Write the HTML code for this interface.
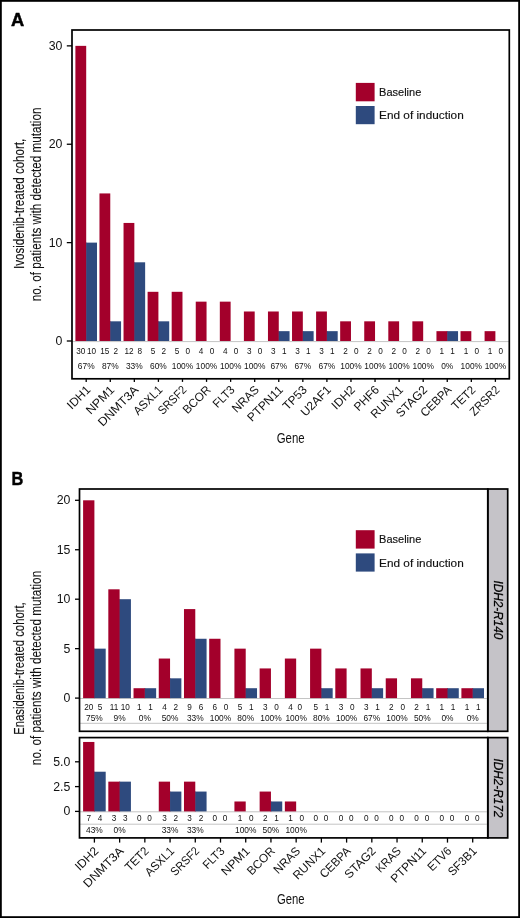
<!DOCTYPE html><html><head><meta charset="utf-8"><style>html,body{margin:0;padding:0;background:#fff;}svg{display:block;will-change:transform;}text{font-family:"Liberation Sans", sans-serif;}</style></head><body>
<svg width="520" height="918" viewBox="0 0 520 918">
<rect x="0" y="0" width="520" height="918" fill="#fff"/>
<rect x="0.9" y="0.9" width="518.2" height="916.2" fill="none" stroke="#000" stroke-width="1.8"/>
<text x="10.9" y="25.5" font-size="18" text-anchor="start" fill="#000" textLength="13.2" lengthAdjust="spacingAndGlyphs" font-weight="bold" stroke="#000" stroke-width="0.45">A</text>
<text x="11.6" y="484.8" font-size="18" text-anchor="start" fill="#000" textLength="11.8" lengthAdjust="spacingAndGlyphs" font-weight="bold" stroke="#000" stroke-width="0.45">B</text>
<line x1="72.0" y1="341.6" x2="509.3" y2="341.6" stroke="#c4c4c4" stroke-width="1"/>
<rect x="75.4" y="45.86" width="10.8" height="295.14" fill="#a3002b"/>
<rect x="85.7" y="242.62" width="1" height="98.38" fill="#a3002b"/>
<rect x="86.2" y="242.62" width="10.8" height="98.38" fill="#2e4a7e"/>
<text x="80.8" y="353.9" font-size="8.2" text-anchor="middle" fill="#111" >30</text>
<text x="91.6" y="353.9" font-size="8.2" text-anchor="middle" fill="#111" >10</text>
<text x="86.2" y="369.4" font-size="8.4" text-anchor="middle" fill="#111" >67%</text>
<rect x="99.47" y="193.43" width="10.8" height="147.57" fill="#a3002b"/>
<rect x="109.77" y="321.32" width="1" height="19.68" fill="#a3002b"/>
<rect x="110.27" y="321.32" width="10.8" height="19.68" fill="#2e4a7e"/>
<text x="104.87" y="353.9" font-size="8.2" text-anchor="middle" fill="#111" >15</text>
<text x="115.67" y="353.9" font-size="8.2" text-anchor="middle" fill="#111" >2</text>
<text x="110.27" y="369.4" font-size="8.4" text-anchor="middle" fill="#111" >87%</text>
<rect x="123.54" y="222.94" width="10.8" height="118.06" fill="#a3002b"/>
<rect x="133.84" y="262.3" width="1" height="78.7" fill="#a3002b"/>
<rect x="134.34" y="262.3" width="10.8" height="78.7" fill="#2e4a7e"/>
<text x="128.94" y="353.9" font-size="8.2" text-anchor="middle" fill="#111" >12</text>
<text x="139.74" y="353.9" font-size="8.2" text-anchor="middle" fill="#111" >8</text>
<text x="134.34" y="369.4" font-size="8.4" text-anchor="middle" fill="#111" >33%</text>
<rect x="147.61" y="291.81" width="10.8" height="49.19" fill="#a3002b"/>
<rect x="157.91" y="321.32" width="1" height="19.68" fill="#a3002b"/>
<rect x="158.41" y="321.32" width="10.8" height="19.68" fill="#2e4a7e"/>
<text x="153.01" y="353.9" font-size="8.2" text-anchor="middle" fill="#111" >5</text>
<text x="163.81" y="353.9" font-size="8.2" text-anchor="middle" fill="#111" >2</text>
<text x="158.41" y="369.4" font-size="8.4" text-anchor="middle" fill="#111" >60%</text>
<rect x="171.68" y="291.81" width="10.8" height="49.19" fill="#a3002b"/>
<text x="177.08" y="353.9" font-size="8.2" text-anchor="middle" fill="#111" >5</text>
<text x="187.88" y="353.9" font-size="8.2" text-anchor="middle" fill="#111" >0</text>
<text x="182.48" y="369.4" font-size="8.4" text-anchor="middle" fill="#111" >100%</text>
<rect x="195.75" y="301.65" width="10.8" height="39.35" fill="#a3002b"/>
<text x="201.15" y="353.9" font-size="8.2" text-anchor="middle" fill="#111" >4</text>
<text x="211.95" y="353.9" font-size="8.2" text-anchor="middle" fill="#111" >0</text>
<text x="206.55" y="369.4" font-size="8.4" text-anchor="middle" fill="#111" >100%</text>
<rect x="219.82" y="301.65" width="10.8" height="39.35" fill="#a3002b"/>
<text x="225.22" y="353.9" font-size="8.2" text-anchor="middle" fill="#111" >4</text>
<text x="236.02" y="353.9" font-size="8.2" text-anchor="middle" fill="#111" >0</text>
<text x="230.62" y="369.4" font-size="8.4" text-anchor="middle" fill="#111" >100%</text>
<rect x="243.89" y="311.49" width="10.8" height="29.51" fill="#a3002b"/>
<text x="249.29" y="353.9" font-size="8.2" text-anchor="middle" fill="#111" >3</text>
<text x="260.09" y="353.9" font-size="8.2" text-anchor="middle" fill="#111" >0</text>
<text x="254.69" y="369.4" font-size="8.4" text-anchor="middle" fill="#111" >100%</text>
<rect x="267.96" y="311.49" width="10.8" height="29.51" fill="#a3002b"/>
<rect x="278.26" y="331.16" width="1" height="9.84" fill="#a3002b"/>
<rect x="278.76" y="331.16" width="10.8" height="9.84" fill="#2e4a7e"/>
<text x="273.36" y="353.9" font-size="8.2" text-anchor="middle" fill="#111" >3</text>
<text x="284.16" y="353.9" font-size="8.2" text-anchor="middle" fill="#111" >1</text>
<text x="278.76" y="369.4" font-size="8.4" text-anchor="middle" fill="#111" >67%</text>
<rect x="292.03" y="311.49" width="10.8" height="29.51" fill="#a3002b"/>
<rect x="302.33" y="331.16" width="1" height="9.84" fill="#a3002b"/>
<rect x="302.83" y="331.16" width="10.8" height="9.84" fill="#2e4a7e"/>
<text x="297.43" y="353.9" font-size="8.2" text-anchor="middle" fill="#111" >3</text>
<text x="308.23" y="353.9" font-size="8.2" text-anchor="middle" fill="#111" >1</text>
<text x="302.83" y="369.4" font-size="8.4" text-anchor="middle" fill="#111" >67%</text>
<rect x="316.1" y="311.49" width="10.8" height="29.51" fill="#a3002b"/>
<rect x="326.4" y="331.16" width="1" height="9.84" fill="#a3002b"/>
<rect x="326.9" y="331.16" width="10.8" height="9.84" fill="#2e4a7e"/>
<text x="321.5" y="353.9" font-size="8.2" text-anchor="middle" fill="#111" >3</text>
<text x="332.3" y="353.9" font-size="8.2" text-anchor="middle" fill="#111" >1</text>
<text x="326.9" y="369.4" font-size="8.4" text-anchor="middle" fill="#111" >67%</text>
<rect x="340.17" y="321.32" width="10.8" height="19.68" fill="#a3002b"/>
<text x="345.57" y="353.9" font-size="8.2" text-anchor="middle" fill="#111" >2</text>
<text x="356.37" y="353.9" font-size="8.2" text-anchor="middle" fill="#111" >0</text>
<text x="350.97" y="369.4" font-size="8.4" text-anchor="middle" fill="#111" >100%</text>
<rect x="364.24" y="321.32" width="10.8" height="19.68" fill="#a3002b"/>
<text x="369.64" y="353.9" font-size="8.2" text-anchor="middle" fill="#111" >2</text>
<text x="380.44" y="353.9" font-size="8.2" text-anchor="middle" fill="#111" >0</text>
<text x="375.04" y="369.4" font-size="8.4" text-anchor="middle" fill="#111" >100%</text>
<rect x="388.31" y="321.32" width="10.8" height="19.68" fill="#a3002b"/>
<text x="393.71" y="353.9" font-size="8.2" text-anchor="middle" fill="#111" >2</text>
<text x="404.51" y="353.9" font-size="8.2" text-anchor="middle" fill="#111" >0</text>
<text x="399.11" y="369.4" font-size="8.4" text-anchor="middle" fill="#111" >100%</text>
<rect x="412.38" y="321.32" width="10.8" height="19.68" fill="#a3002b"/>
<text x="417.78" y="353.9" font-size="8.2" text-anchor="middle" fill="#111" >2</text>
<text x="428.58" y="353.9" font-size="8.2" text-anchor="middle" fill="#111" >0</text>
<text x="423.18" y="369.4" font-size="8.4" text-anchor="middle" fill="#111" >100%</text>
<rect x="436.45" y="331.16" width="10.8" height="9.84" fill="#a3002b"/>
<rect x="446.75" y="331.16" width="1" height="9.84" fill="#a3002b"/>
<rect x="447.25" y="331.16" width="10.8" height="9.84" fill="#2e4a7e"/>
<text x="441.85" y="353.9" font-size="8.2" text-anchor="middle" fill="#111" >1</text>
<text x="452.65" y="353.9" font-size="8.2" text-anchor="middle" fill="#111" >1</text>
<text x="447.25" y="369.4" font-size="8.4" text-anchor="middle" fill="#111" >0%</text>
<rect x="460.52" y="331.16" width="10.8" height="9.84" fill="#a3002b"/>
<text x="465.92" y="353.9" font-size="8.2" text-anchor="middle" fill="#111" >1</text>
<text x="476.72" y="353.9" font-size="8.2" text-anchor="middle" fill="#111" >0</text>
<text x="471.32" y="369.4" font-size="8.4" text-anchor="middle" fill="#111" >100%</text>
<rect x="484.59" y="331.16" width="10.8" height="9.84" fill="#a3002b"/>
<text x="489.99" y="353.9" font-size="8.2" text-anchor="middle" fill="#111" >1</text>
<text x="500.79" y="353.9" font-size="8.2" text-anchor="middle" fill="#111" >0</text>
<text x="495.39" y="369.4" font-size="8.4" text-anchor="middle" fill="#111" >100%</text>
<rect x="72.0" y="30.0" width="437.3" height="348.8" fill="none" stroke="#000" stroke-width="1.7"/>
<line x1="66.8" y1="341" x2="72.0" y2="341" stroke="#000" stroke-width="1.3"/>
<text x="62.4" y="344.9" font-size="12.3" text-anchor="end" fill="#111" >0</text>
<line x1="66.8" y1="242.62" x2="72.0" y2="242.62" stroke="#000" stroke-width="1.3"/>
<text x="62.4" y="246.52" font-size="12.3" text-anchor="end" fill="#111" >10</text>
<line x1="66.8" y1="144.24" x2="72.0" y2="144.24" stroke="#000" stroke-width="1.3"/>
<text x="62.4" y="148.14" font-size="12.3" text-anchor="end" fill="#111" >20</text>
<line x1="66.8" y1="45.86" x2="72.0" y2="45.86" stroke="#000" stroke-width="1.3"/>
<text x="62.4" y="49.76" font-size="12.3" text-anchor="end" fill="#111" >30</text>
<line x1="86.2" y1="378.8" x2="86.2" y2="381.9" stroke="#000" stroke-width="1.3"/>
<line x1="110.27" y1="378.8" x2="110.27" y2="381.9" stroke="#000" stroke-width="1.3"/>
<line x1="134.34" y1="378.8" x2="134.34" y2="381.9" stroke="#000" stroke-width="1.3"/>
<line x1="158.41" y1="378.8" x2="158.41" y2="381.9" stroke="#000" stroke-width="1.3"/>
<line x1="182.48" y1="378.8" x2="182.48" y2="381.9" stroke="#000" stroke-width="1.3"/>
<line x1="206.55" y1="378.8" x2="206.55" y2="381.9" stroke="#000" stroke-width="1.3"/>
<line x1="230.62" y1="378.8" x2="230.62" y2="381.9" stroke="#000" stroke-width="1.3"/>
<line x1="254.69" y1="378.8" x2="254.69" y2="381.9" stroke="#000" stroke-width="1.3"/>
<line x1="278.76" y1="378.8" x2="278.76" y2="381.9" stroke="#000" stroke-width="1.3"/>
<line x1="302.83" y1="378.8" x2="302.83" y2="381.9" stroke="#000" stroke-width="1.3"/>
<line x1="326.9" y1="378.8" x2="326.9" y2="381.9" stroke="#000" stroke-width="1.3"/>
<line x1="350.97" y1="378.8" x2="350.97" y2="381.9" stroke="#000" stroke-width="1.3"/>
<line x1="375.04" y1="378.8" x2="375.04" y2="381.9" stroke="#000" stroke-width="1.3"/>
<line x1="399.11" y1="378.8" x2="399.11" y2="381.9" stroke="#000" stroke-width="1.3"/>
<line x1="423.18" y1="378.8" x2="423.18" y2="381.9" stroke="#000" stroke-width="1.3"/>
<line x1="447.25" y1="378.8" x2="447.25" y2="381.9" stroke="#000" stroke-width="1.3"/>
<line x1="471.32" y1="378.8" x2="471.32" y2="381.9" stroke="#000" stroke-width="1.3"/>
<line x1="495.39" y1="378.8" x2="495.39" y2="381.9" stroke="#000" stroke-width="1.3"/>
<text x="0" y="0" font-size="12" text-anchor="end" fill="#111" textLength="27.34" lengthAdjust="spacingAndGlyphs" transform="translate(91.1,390.6) rotate(-45)">IDH1</text>
<text x="0" y="0" font-size="12" text-anchor="end" fill="#111" textLength="34.54" lengthAdjust="spacingAndGlyphs" transform="translate(115.17,390.6) rotate(-45)">NPM1</text>
<text x="0" y="0" font-size="12" text-anchor="end" fill="#111" textLength="51.54" lengthAdjust="spacingAndGlyphs" transform="translate(139.24,390.6) rotate(-45)">DNMT3A</text>
<text x="0" y="0" font-size="12" text-anchor="end" fill="#111" textLength="35.51" lengthAdjust="spacingAndGlyphs" transform="translate(163.31,390.6) rotate(-45)">ASXL1</text>
<text x="0" y="0" font-size="12" text-anchor="end" fill="#111" textLength="34.98" lengthAdjust="spacingAndGlyphs" transform="translate(187.38,390.6) rotate(-45)">SRSF2</text>
<text x="0" y="0" font-size="12" text-anchor="end" fill="#111" textLength="33.97" lengthAdjust="spacingAndGlyphs" transform="translate(211.45,390.6) rotate(-45)">BCOR</text>
<text x="0" y="0" font-size="12" text-anchor="end" fill="#111" textLength="25.32" lengthAdjust="spacingAndGlyphs" transform="translate(235.52,390.6) rotate(-45)">FLT3</text>
<text x="0" y="0" font-size="12" text-anchor="end" fill="#111" textLength="32.14" lengthAdjust="spacingAndGlyphs" transform="translate(259.59,390.6) rotate(-45)">NRAS</text>
<text x="0" y="0" font-size="12" text-anchor="end" fill="#111" textLength="44.81" lengthAdjust="spacingAndGlyphs" transform="translate(283.66,390.6) rotate(-45)">PTPN11</text>
<text x="0" y="0" font-size="12" text-anchor="end" fill="#111" textLength="28.68" lengthAdjust="spacingAndGlyphs" transform="translate(307.73,390.6) rotate(-45)">TP53</text>
<text x="0" y="0" font-size="12" text-anchor="end" fill="#111" textLength="37.35" lengthAdjust="spacingAndGlyphs" transform="translate(331.8,390.6) rotate(-45)">U2AF1</text>
<text x="0" y="0" font-size="12" text-anchor="end" fill="#111" textLength="27.64" lengthAdjust="spacingAndGlyphs" transform="translate(355.87,390.6) rotate(-45)">IDH2</text>
<text x="0" y="0" font-size="12" text-anchor="end" fill="#111" textLength="30.07" lengthAdjust="spacingAndGlyphs" transform="translate(379.94,390.6) rotate(-45)">PHF6</text>
<text x="0" y="0" font-size="12" text-anchor="end" fill="#111" textLength="40.18" lengthAdjust="spacingAndGlyphs" transform="translate(404.01,390.6) rotate(-45)">RUNX1</text>
<text x="0" y="0" font-size="12" text-anchor="end" fill="#111" textLength="38.76" lengthAdjust="spacingAndGlyphs" transform="translate(428.08,390.6) rotate(-45)">STAG2</text>
<text x="0" y="0" font-size="12" text-anchor="end" fill="#111" textLength="38.19" lengthAdjust="spacingAndGlyphs" transform="translate(452.15,390.6) rotate(-45)">CEBPA</text>
<text x="0" y="0" font-size="12" text-anchor="end" fill="#111" textLength="28.24" lengthAdjust="spacingAndGlyphs" transform="translate(476.22,390.6) rotate(-45)">TET2</text>
<text x="0" y="0" font-size="12" text-anchor="end" fill="#111" textLength="36.54" lengthAdjust="spacingAndGlyphs" transform="translate(500.29,390.6) rotate(-45)">ZRSR2</text>
<text x="290.7" y="442.7" font-size="15.4" text-anchor="middle" fill="#111" textLength="28" lengthAdjust="spacingAndGlyphs" >Gene</text>
<rect x="355.8" y="82.9" width="18.8" height="18.4" fill="#a3002b"/>
<rect x="355.8" y="106.0" width="18.8" height="18.2" fill="#2e4a7e"/>
<text x="379.1" y="95.7" font-size="11.7" text-anchor="start" fill="#111" textLength="42.2" lengthAdjust="spacingAndGlyphs" stroke="#111" stroke-width="0.15">Baseline</text>
<text x="379.1" y="118.8" font-size="11.7" text-anchor="start" fill="#111" textLength="84.6" lengthAdjust="spacingAndGlyphs" stroke="#111" stroke-width="0.15">End of induction</text>
<text x="0" y="0" font-size="14.2" text-anchor="middle" fill="#111" stroke="#111" stroke-width="0.12" textLength="130.2" lengthAdjust="spacingAndGlyphs" transform="translate(23.7,203.9) rotate(-90)">Ivosidenib-treated cohort,</text>
<text x="0" y="0" font-size="14.2" text-anchor="middle" fill="#111" stroke="#111" stroke-width="0.12" textLength="193.6" lengthAdjust="spacingAndGlyphs" transform="translate(40.6,204.4) rotate(-90)">no. of patients with detected mutation</text>
<rect x="487.8" y="489.0" width="19.9" height="242.3" fill="#c5c3c8" stroke="#000" stroke-width="1.7"/>
<line x1="79.5" y1="698.5" x2="487.8" y2="698.5" stroke="#c4c4c4" stroke-width="1"/>
<line x1="79.5" y1="723.3" x2="487.8" y2="723.3" stroke="#c4c4c4" stroke-width="1"/>
<rect x="83.1" y="500.3" width="11.3" height="197.8" fill="#a3002b"/>
<rect x="93.9" y="648.65" width="1" height="49.45" fill="#a3002b"/>
<rect x="94.4" y="648.65" width="11.3" height="49.45" fill="#2e4a7e"/>
<text x="88.75" y="710.3" font-size="8.2" text-anchor="middle" fill="#111" >20</text>
<text x="100.05" y="710.3" font-size="8.2" text-anchor="middle" fill="#111" >5</text>
<text x="94.4" y="720.8" font-size="8.4" text-anchor="middle" fill="#111" >75%</text>
<rect x="108.32" y="589.31" width="11.3" height="108.79" fill="#a3002b"/>
<rect x="119.12" y="599.2" width="1" height="98.9" fill="#a3002b"/>
<rect x="119.62" y="599.2" width="11.3" height="98.9" fill="#2e4a7e"/>
<text x="113.97" y="710.3" font-size="8.2" text-anchor="middle" fill="#111" >11</text>
<text x="125.27" y="710.3" font-size="8.2" text-anchor="middle" fill="#111" >10</text>
<text x="119.62" y="720.8" font-size="8.4" text-anchor="middle" fill="#111" >9%</text>
<rect x="133.54" y="688.21" width="11.3" height="9.89" fill="#a3002b"/>
<rect x="144.34" y="688.21" width="1" height="9.89" fill="#a3002b"/>
<rect x="144.84" y="688.21" width="11.3" height="9.89" fill="#2e4a7e"/>
<text x="139.19" y="710.3" font-size="8.2" text-anchor="middle" fill="#111" >1</text>
<text x="150.49" y="710.3" font-size="8.2" text-anchor="middle" fill="#111" >1</text>
<text x="144.84" y="720.8" font-size="8.4" text-anchor="middle" fill="#111" >0%</text>
<rect x="158.76" y="658.54" width="11.3" height="39.56" fill="#a3002b"/>
<rect x="169.56" y="678.32" width="1" height="19.78" fill="#a3002b"/>
<rect x="170.06" y="678.32" width="11.3" height="19.78" fill="#2e4a7e"/>
<text x="164.41" y="710.3" font-size="8.2" text-anchor="middle" fill="#111" >4</text>
<text x="175.71" y="710.3" font-size="8.2" text-anchor="middle" fill="#111" >2</text>
<text x="170.06" y="720.8" font-size="8.4" text-anchor="middle" fill="#111" >50%</text>
<rect x="183.98" y="609.09" width="11.3" height="89.01" fill="#a3002b"/>
<rect x="194.78" y="638.76" width="1" height="59.34" fill="#a3002b"/>
<rect x="195.28" y="638.76" width="11.3" height="59.34" fill="#2e4a7e"/>
<text x="189.63" y="710.3" font-size="8.2" text-anchor="middle" fill="#111" >9</text>
<text x="200.93" y="710.3" font-size="8.2" text-anchor="middle" fill="#111" >6</text>
<text x="195.28" y="720.8" font-size="8.4" text-anchor="middle" fill="#111" >33%</text>
<rect x="209.2" y="638.76" width="11.3" height="59.34" fill="#a3002b"/>
<text x="214.85" y="710.3" font-size="8.2" text-anchor="middle" fill="#111" >6</text>
<text x="226.15" y="710.3" font-size="8.2" text-anchor="middle" fill="#111" >0</text>
<text x="220.5" y="720.8" font-size="8.4" text-anchor="middle" fill="#111" >100%</text>
<rect x="234.42" y="648.65" width="11.3" height="49.45" fill="#a3002b"/>
<rect x="245.22" y="688.21" width="1" height="9.89" fill="#a3002b"/>
<rect x="245.72" y="688.21" width="11.3" height="9.89" fill="#2e4a7e"/>
<text x="240.07" y="710.3" font-size="8.2" text-anchor="middle" fill="#111" >5</text>
<text x="251.37" y="710.3" font-size="8.2" text-anchor="middle" fill="#111" >1</text>
<text x="245.72" y="720.8" font-size="8.4" text-anchor="middle" fill="#111" >80%</text>
<rect x="259.64" y="668.43" width="11.3" height="29.67" fill="#a3002b"/>
<text x="265.29" y="710.3" font-size="8.2" text-anchor="middle" fill="#111" >3</text>
<text x="276.59" y="710.3" font-size="8.2" text-anchor="middle" fill="#111" >0</text>
<text x="270.94" y="720.8" font-size="8.4" text-anchor="middle" fill="#111" >100%</text>
<rect x="284.86" y="658.54" width="11.3" height="39.56" fill="#a3002b"/>
<text x="290.51" y="710.3" font-size="8.2" text-anchor="middle" fill="#111" >4</text>
<text x="299.81" y="710.3" font-size="8.2" text-anchor="middle" fill="#111" >0</text>
<text x="296.16" y="720.8" font-size="8.4" text-anchor="middle" fill="#111" >100%</text>
<rect x="310.08" y="648.65" width="11.3" height="49.45" fill="#a3002b"/>
<rect x="320.88" y="688.21" width="1" height="9.89" fill="#a3002b"/>
<rect x="321.38" y="688.21" width="11.3" height="9.89" fill="#2e4a7e"/>
<text x="315.73" y="710.3" font-size="8.2" text-anchor="middle" fill="#111" >5</text>
<text x="327.03" y="710.3" font-size="8.2" text-anchor="middle" fill="#111" >1</text>
<text x="321.38" y="720.8" font-size="8.4" text-anchor="middle" fill="#111" >80%</text>
<rect x="335.3" y="668.43" width="11.3" height="29.67" fill="#a3002b"/>
<text x="340.95" y="710.3" font-size="8.2" text-anchor="middle" fill="#111" >3</text>
<text x="352.25" y="710.3" font-size="8.2" text-anchor="middle" fill="#111" >0</text>
<text x="346.6" y="720.8" font-size="8.4" text-anchor="middle" fill="#111" >100%</text>
<rect x="360.52" y="668.43" width="11.3" height="29.67" fill="#a3002b"/>
<rect x="371.32" y="688.21" width="1" height="9.89" fill="#a3002b"/>
<rect x="371.82" y="688.21" width="11.3" height="9.89" fill="#2e4a7e"/>
<text x="366.17" y="710.3" font-size="8.2" text-anchor="middle" fill="#111" >3</text>
<text x="377.47" y="710.3" font-size="8.2" text-anchor="middle" fill="#111" >1</text>
<text x="371.82" y="720.8" font-size="8.4" text-anchor="middle" fill="#111" >67%</text>
<rect x="385.74" y="678.32" width="11.3" height="19.78" fill="#a3002b"/>
<text x="391.39" y="710.3" font-size="8.2" text-anchor="middle" fill="#111" >2</text>
<text x="402.69" y="710.3" font-size="8.2" text-anchor="middle" fill="#111" >0</text>
<text x="397.04" y="720.8" font-size="8.4" text-anchor="middle" fill="#111" >100%</text>
<rect x="410.96" y="678.32" width="11.3" height="19.78" fill="#a3002b"/>
<rect x="421.76" y="688.21" width="1" height="9.89" fill="#a3002b"/>
<rect x="422.26" y="688.21" width="11.3" height="9.89" fill="#2e4a7e"/>
<text x="416.61" y="710.3" font-size="8.2" text-anchor="middle" fill="#111" >2</text>
<text x="427.91" y="710.3" font-size="8.2" text-anchor="middle" fill="#111" >1</text>
<text x="422.26" y="720.8" font-size="8.4" text-anchor="middle" fill="#111" >50%</text>
<rect x="436.18" y="688.21" width="11.3" height="9.89" fill="#a3002b"/>
<rect x="446.98" y="688.21" width="1" height="9.89" fill="#a3002b"/>
<rect x="447.48" y="688.21" width="11.3" height="9.89" fill="#2e4a7e"/>
<text x="441.83" y="710.3" font-size="8.2" text-anchor="middle" fill="#111" >1</text>
<text x="453.13" y="710.3" font-size="8.2" text-anchor="middle" fill="#111" >1</text>
<text x="447.48" y="720.8" font-size="8.4" text-anchor="middle" fill="#111" >0%</text>
<rect x="461.4" y="688.21" width="11.3" height="9.89" fill="#a3002b"/>
<rect x="472.2" y="688.21" width="1" height="9.89" fill="#a3002b"/>
<rect x="472.7" y="688.21" width="11.3" height="9.89" fill="#2e4a7e"/>
<text x="467.05" y="710.3" font-size="8.2" text-anchor="middle" fill="#111" >1</text>
<text x="478.35" y="710.3" font-size="8.2" text-anchor="middle" fill="#111" >1</text>
<text x="472.7" y="720.8" font-size="8.4" text-anchor="middle" fill="#111" >0%</text>
<rect x="79.5" y="489.0" width="408.3" height="242.3" fill="none" stroke="#000" stroke-width="1.7"/>
<line x1="75" y1="698.1" x2="79.5" y2="698.1" stroke="#000" stroke-width="1.3"/>
<text x="70.4" y="702" font-size="12.3" text-anchor="end" fill="#111" >0</text>
<line x1="75" y1="648.65" x2="79.5" y2="648.65" stroke="#000" stroke-width="1.3"/>
<text x="70.4" y="652.55" font-size="12.3" text-anchor="end" fill="#111" >5</text>
<line x1="75" y1="599.2" x2="79.5" y2="599.2" stroke="#000" stroke-width="1.3"/>
<text x="70.4" y="603.1" font-size="12.3" text-anchor="end" fill="#111" >10</text>
<line x1="75" y1="549.75" x2="79.5" y2="549.75" stroke="#000" stroke-width="1.3"/>
<text x="70.4" y="553.65" font-size="12.3" text-anchor="end" fill="#111" >15</text>
<line x1="75" y1="500.3" x2="79.5" y2="500.3" stroke="#000" stroke-width="1.3"/>
<text x="70.4" y="504.2" font-size="12.3" text-anchor="end" fill="#111" >20</text>
<text x="0" y="0" font-size="12.6" font-style="italic" text-anchor="middle" fill="#000" stroke="#000" stroke-width="0.25" textLength="59" lengthAdjust="spacingAndGlyphs" transform="translate(493.9,609.9) rotate(90)">IDH2-R140</text>
<rect x="355.8" y="530.2" width="18.8" height="18.4" fill="#a3002b"/>
<rect x="355.8" y="553.4" width="18.8" height="18.2" fill="#2e4a7e"/>
<text x="379.1" y="543.4" font-size="11.7" text-anchor="start" fill="#111" textLength="42.2" lengthAdjust="spacingAndGlyphs" stroke="#111" stroke-width="0.15">Baseline</text>
<text x="379.1" y="566.8" font-size="11.7" text-anchor="start" fill="#111" textLength="84.6" lengthAdjust="spacingAndGlyphs" stroke="#111" stroke-width="0.15">End of induction</text>
<rect x="487.8" y="737.6" width="19.9" height="100.3" fill="#c5c3c8" stroke="#000" stroke-width="1.7"/>
<line x1="79.5" y1="811.8" x2="487.8" y2="811.8" stroke="#c4c4c4" stroke-width="1"/>
<line x1="79.5" y1="824.2" x2="487.8" y2="824.2" stroke="#c4c4c4" stroke-width="1"/>
<rect x="83.1" y="741.96" width="11.3" height="69.44" fill="#a3002b"/>
<rect x="93.9" y="771.72" width="1" height="39.68" fill="#a3002b"/>
<rect x="94.4" y="771.72" width="11.3" height="39.68" fill="#2e4a7e"/>
<text x="88.75" y="821.4" font-size="8.2" text-anchor="middle" fill="#111" >7</text>
<text x="100.05" y="821.4" font-size="8.2" text-anchor="middle" fill="#111" >4</text>
<text x="94.4" y="832.8" font-size="8.4" text-anchor="middle" fill="#111" >43%</text>
<rect x="108.32" y="781.64" width="11.3" height="29.76" fill="#a3002b"/>
<rect x="119.12" y="781.64" width="1" height="29.76" fill="#a3002b"/>
<rect x="119.62" y="781.64" width="11.3" height="29.76" fill="#2e4a7e"/>
<text x="113.97" y="821.4" font-size="8.2" text-anchor="middle" fill="#111" >3</text>
<text x="125.27" y="821.4" font-size="8.2" text-anchor="middle" fill="#111" >3</text>
<text x="119.62" y="832.8" font-size="8.4" text-anchor="middle" fill="#111" >0%</text>
<text x="139.19" y="821.4" font-size="8.2" text-anchor="middle" fill="#111" >0</text>
<text x="149.49" y="821.4" font-size="8.2" text-anchor="middle" fill="#111" >0</text>
<rect x="158.76" y="781.64" width="11.3" height="29.76" fill="#a3002b"/>
<rect x="169.56" y="791.56" width="1" height="19.84" fill="#a3002b"/>
<rect x="170.06" y="791.56" width="11.3" height="19.84" fill="#2e4a7e"/>
<text x="164.41" y="821.4" font-size="8.2" text-anchor="middle" fill="#111" >3</text>
<text x="175.71" y="821.4" font-size="8.2" text-anchor="middle" fill="#111" >2</text>
<text x="170.06" y="832.8" font-size="8.4" text-anchor="middle" fill="#111" >33%</text>
<rect x="183.98" y="781.64" width="11.3" height="29.76" fill="#a3002b"/>
<rect x="194.78" y="791.56" width="1" height="19.84" fill="#a3002b"/>
<rect x="195.28" y="791.56" width="11.3" height="19.84" fill="#2e4a7e"/>
<text x="189.63" y="821.4" font-size="8.2" text-anchor="middle" fill="#111" >3</text>
<text x="200.93" y="821.4" font-size="8.2" text-anchor="middle" fill="#111" >2</text>
<text x="195.28" y="832.8" font-size="8.4" text-anchor="middle" fill="#111" >33%</text>
<text x="214.85" y="821.4" font-size="8.2" text-anchor="middle" fill="#111" >0</text>
<text x="225.15" y="821.4" font-size="8.2" text-anchor="middle" fill="#111" >0</text>
<rect x="234.42" y="801.48" width="11.3" height="9.92" fill="#a3002b"/>
<text x="240.07" y="821.4" font-size="8.2" text-anchor="middle" fill="#111" >1</text>
<text x="251.37" y="821.4" font-size="8.2" text-anchor="middle" fill="#111" >0</text>
<text x="245.72" y="832.8" font-size="8.4" text-anchor="middle" fill="#111" >100%</text>
<rect x="259.64" y="791.56" width="11.3" height="19.84" fill="#a3002b"/>
<rect x="270.44" y="801.48" width="1" height="9.92" fill="#a3002b"/>
<rect x="270.94" y="801.48" width="11.3" height="9.92" fill="#2e4a7e"/>
<text x="265.29" y="821.4" font-size="8.2" text-anchor="middle" fill="#111" >2</text>
<text x="276.59" y="821.4" font-size="8.2" text-anchor="middle" fill="#111" >1</text>
<text x="270.94" y="832.8" font-size="8.4" text-anchor="middle" fill="#111" >50%</text>
<rect x="284.86" y="801.48" width="11.3" height="9.92" fill="#a3002b"/>
<text x="290.51" y="821.4" font-size="8.2" text-anchor="middle" fill="#111" >1</text>
<text x="301.81" y="821.4" font-size="8.2" text-anchor="middle" fill="#111" >0</text>
<text x="296.16" y="832.8" font-size="8.4" text-anchor="middle" fill="#111" >100%</text>
<text x="315.73" y="821.4" font-size="8.2" text-anchor="middle" fill="#111" >0</text>
<text x="326.03" y="821.4" font-size="8.2" text-anchor="middle" fill="#111" >0</text>
<text x="340.95" y="821.4" font-size="8.2" text-anchor="middle" fill="#111" >0</text>
<text x="351.25" y="821.4" font-size="8.2" text-anchor="middle" fill="#111" >0</text>
<text x="366.17" y="821.4" font-size="8.2" text-anchor="middle" fill="#111" >0</text>
<text x="376.47" y="821.4" font-size="8.2" text-anchor="middle" fill="#111" >0</text>
<text x="391.39" y="821.4" font-size="8.2" text-anchor="middle" fill="#111" >0</text>
<text x="401.69" y="821.4" font-size="8.2" text-anchor="middle" fill="#111" >0</text>
<text x="416.61" y="821.4" font-size="8.2" text-anchor="middle" fill="#111" >0</text>
<text x="426.91" y="821.4" font-size="8.2" text-anchor="middle" fill="#111" >0</text>
<text x="441.83" y="821.4" font-size="8.2" text-anchor="middle" fill="#111" >0</text>
<text x="452.13" y="821.4" font-size="8.2" text-anchor="middle" fill="#111" >0</text>
<text x="467.05" y="821.4" font-size="8.2" text-anchor="middle" fill="#111" >0</text>
<text x="477.35" y="821.4" font-size="8.2" text-anchor="middle" fill="#111" >0</text>
<rect x="79.5" y="737.6" width="408.3" height="100.3" fill="none" stroke="#000" stroke-width="1.7"/>
<line x1="75" y1="811.4" x2="79.5" y2="811.4" stroke="#000" stroke-width="1.3"/>
<text x="70.4" y="815.3" font-size="12.3" text-anchor="end" fill="#111" >0</text>
<line x1="75" y1="786.6" x2="79.5" y2="786.6" stroke="#000" stroke-width="1.3"/>
<text x="70.4" y="790.5" font-size="12.3" text-anchor="end" fill="#111" >2.5</text>
<line x1="75" y1="761.8" x2="79.5" y2="761.8" stroke="#000" stroke-width="1.3"/>
<text x="70.4" y="765.7" font-size="12.3" text-anchor="end" fill="#111" >5.0</text>
<text x="0" y="0" font-size="12.6" font-style="italic" text-anchor="middle" fill="#000" stroke="#000" stroke-width="0.25" textLength="59" lengthAdjust="spacingAndGlyphs" transform="translate(493.9,788) rotate(90)">IDH2-R172</text>
<line x1="94.4" y1="837.9" x2="94.4" y2="842.6" stroke="#000" stroke-width="1.3"/>
<line x1="119.62" y1="837.9" x2="119.62" y2="842.6" stroke="#000" stroke-width="1.3"/>
<line x1="144.84" y1="837.9" x2="144.84" y2="842.6" stroke="#000" stroke-width="1.3"/>
<line x1="170.06" y1="837.9" x2="170.06" y2="842.6" stroke="#000" stroke-width="1.3"/>
<line x1="195.28" y1="837.9" x2="195.28" y2="842.6" stroke="#000" stroke-width="1.3"/>
<line x1="220.5" y1="837.9" x2="220.5" y2="842.6" stroke="#000" stroke-width="1.3"/>
<line x1="245.72" y1="837.9" x2="245.72" y2="842.6" stroke="#000" stroke-width="1.3"/>
<line x1="270.94" y1="837.9" x2="270.94" y2="842.6" stroke="#000" stroke-width="1.3"/>
<line x1="296.16" y1="837.9" x2="296.16" y2="842.6" stroke="#000" stroke-width="1.3"/>
<line x1="321.38" y1="837.9" x2="321.38" y2="842.6" stroke="#000" stroke-width="1.3"/>
<line x1="346.6" y1="837.9" x2="346.6" y2="842.6" stroke="#000" stroke-width="1.3"/>
<line x1="371.82" y1="837.9" x2="371.82" y2="842.6" stroke="#000" stroke-width="1.3"/>
<line x1="397.04" y1="837.9" x2="397.04" y2="842.6" stroke="#000" stroke-width="1.3"/>
<line x1="422.26" y1="837.9" x2="422.26" y2="842.6" stroke="#000" stroke-width="1.3"/>
<line x1="447.48" y1="837.9" x2="447.48" y2="842.6" stroke="#000" stroke-width="1.3"/>
<line x1="472.7" y1="837.9" x2="472.7" y2="842.6" stroke="#000" stroke-width="1.3"/>
<text x="0" y="0" font-size="12" text-anchor="end" fill="#111" textLength="27.64" lengthAdjust="spacingAndGlyphs" transform="translate(99.2,851.8) rotate(-45)">IDH2</text>
<text x="0" y="0" font-size="12" text-anchor="end" fill="#111" textLength="51.54" lengthAdjust="spacingAndGlyphs" transform="translate(124.42,851.8) rotate(-45)">DNMT3A</text>
<text x="0" y="0" font-size="12" text-anchor="end" fill="#111" textLength="28.24" lengthAdjust="spacingAndGlyphs" transform="translate(149.64,851.8) rotate(-45)">TET2</text>
<text x="0" y="0" font-size="12" text-anchor="end" fill="#111" textLength="35.51" lengthAdjust="spacingAndGlyphs" transform="translate(174.86,851.8) rotate(-45)">ASXL1</text>
<text x="0" y="0" font-size="12" text-anchor="end" fill="#111" textLength="34.98" lengthAdjust="spacingAndGlyphs" transform="translate(200.08,851.8) rotate(-45)">SRSF2</text>
<text x="0" y="0" font-size="12" text-anchor="end" fill="#111" textLength="25.32" lengthAdjust="spacingAndGlyphs" transform="translate(225.3,851.8) rotate(-45)">FLT3</text>
<text x="0" y="0" font-size="12" text-anchor="end" fill="#111" textLength="34.54" lengthAdjust="spacingAndGlyphs" transform="translate(250.52,851.8) rotate(-45)">NPM1</text>
<text x="0" y="0" font-size="12" text-anchor="end" fill="#111" textLength="33.97" lengthAdjust="spacingAndGlyphs" transform="translate(275.74,851.8) rotate(-45)">BCOR</text>
<text x="0" y="0" font-size="12" text-anchor="end" fill="#111" textLength="32.14" lengthAdjust="spacingAndGlyphs" transform="translate(300.96,851.8) rotate(-45)">NRAS</text>
<text x="0" y="0" font-size="12" text-anchor="end" fill="#111" textLength="40.18" lengthAdjust="spacingAndGlyphs" transform="translate(326.18,851.8) rotate(-45)">RUNX1</text>
<text x="0" y="0" font-size="12" text-anchor="end" fill="#111" textLength="38.19" lengthAdjust="spacingAndGlyphs" transform="translate(351.4,851.8) rotate(-45)">CEBPA</text>
<text x="0" y="0" font-size="12" text-anchor="end" fill="#111" textLength="38.76" lengthAdjust="spacingAndGlyphs" transform="translate(376.62,851.8) rotate(-45)">STAG2</text>
<text x="0" y="0" font-size="12" text-anchor="end" fill="#111" textLength="30.18" lengthAdjust="spacingAndGlyphs" transform="translate(401.84,851.8) rotate(-45)">KRAS</text>
<text x="0" y="0" font-size="12" text-anchor="end" fill="#111" textLength="44.81" lengthAdjust="spacingAndGlyphs" transform="translate(427.06,851.8) rotate(-45)">PTPN11</text>
<text x="0" y="0" font-size="12" text-anchor="end" fill="#111" textLength="28.21" lengthAdjust="spacingAndGlyphs" transform="translate(452.28,851.8) rotate(-45)">ETV6</text>
<text x="0" y="0" font-size="12" text-anchor="end" fill="#111" textLength="35.09" lengthAdjust="spacingAndGlyphs" transform="translate(477.5,851.8) rotate(-45)">SF3B1</text>
<text x="290.7" y="903.8" font-size="15.2" text-anchor="middle" fill="#111" textLength="27.6" lengthAdjust="spacingAndGlyphs" >Gene</text>
<text x="0" y="0" font-size="14.2" text-anchor="middle" fill="#111" stroke="#111" stroke-width="0.12" textLength="132.5" lengthAdjust="spacingAndGlyphs" transform="translate(24.2,668.5) rotate(-90)">Enasidenib-treated cohort,</text>
<text x="0" y="0" font-size="14.2" text-anchor="middle" fill="#111" stroke="#111" stroke-width="0.12" textLength="194.3" lengthAdjust="spacingAndGlyphs" transform="translate(41,668) rotate(-90)">no. of patients with detected mutation</text>
</svg></body></html>
